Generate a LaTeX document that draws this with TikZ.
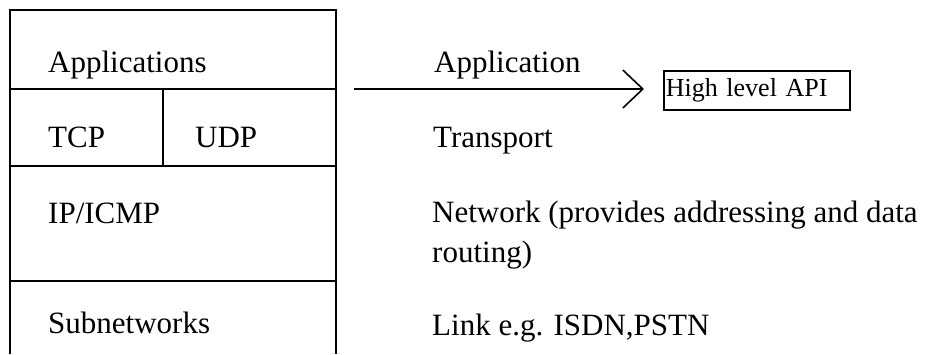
\documentclass[tikz,border=0pt]{standalone}
\usepackage{fontspec}
\setmainfont{Liberation Serif}
\usetikzlibrary{arrows.meta}
\begin{document}
\begin{tikzpicture}[x=1pt,y=-1pt,
  frame/.style={line width=1.6pt, black},
  lbl/.style={anchor=base west, inner sep=0pt, font=\fontsize{31}{40}\selectfont},
  apibox/.style={draw, line width=1.6pt, anchor=north west, minimum width=186pt,
    minimum height=39pt, inner xsep=2pt, inner ysep=0pt, text width=182pt,
    align=left, font=\fontsize{26}{30}\selectfont},
  flow/.style={line width=1.6pt, -{Straight Barb[length=20pt,width=38pt,line width=1.6pt]}}]
\useasboundingbox (0,0) rectangle (935,354);

% protocol stack, open at the bottom
\draw[frame] (10,354) -- (10,10) -- (336,10) -- (336,354);
\draw[frame] (10,89) -- (336,89);
\draw[frame] (10,166) -- (336,166);
\draw[frame] (10,281) -- (336,281);
\draw[frame] (163,89) -- (163,166);

% layer contents
\node[lbl] (apps) at (48,72) {Applications};
\node[lbl] (tcp)  at (48,147) {TCP};
\node[lbl] (udp)  at (195,147) {UDP};
\node[lbl] (ip)   at (48,223) {IP/ICMP};
\node[lbl] (sub)  at (48,333) {Subnetworks};

% layer names
\node[lbl] (lapp)  at (434,72) {Application};
\node[lbl] (ltr)   at (433,147) {Transport};
\node[lbl] (lnet)  at (432,222) {Network (provides addressing and data};
\node[lbl] (lnet2) at (432,262) {routing)};
\node[lbl] (llink) at (432,335) {Link e.g. ISDN,PSTN};

% interface offered to applications
\node[apibox] (api) at (663,70) {High level API};
\coordinate (from) at (354,89);
\coordinate (to) at (644,89);
\draw[flow] (from) -- (to);
\end{tikzpicture}
\end{document}
